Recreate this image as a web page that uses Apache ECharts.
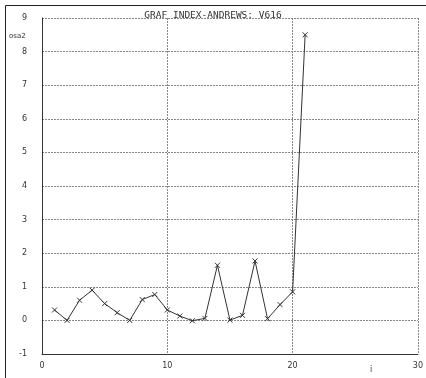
<!DOCTYPE html>
<html>
<head>
<meta charset="utf-8">
<script src="https://cdn.jsdelivr.net/npm/echarts@6/dist/echarts.min.js"></script>
<style>
  html, body { margin: 0; padding: 0; background: #fff; }
  #chart { width: 426px; height: 378px; }
</style>
</head>
<body>
<div id="chart"></div>
<script>
// Andrews index values (osa2) against index i
const indexValues = [1, 2, 3, 4, 5, 6, 7, 8, 9, 10, 11, 12, 13, 14, 15, 16, 17, 18, 19, 20, 21];
const osa2Values = [0.31, 0.0, 0.6, 0.9, 0.5, 0.23, 0.0, 0.62, 0.77, 0.31, 0.13, -0.01, 0.06, 1.64, 0.01, 0.15, 1.77, 0.05, 0.47, 0.85, 8.5];
const xTicks = [0, 10, 20, 30];
const yTicks = [-1, 0, 1, 2, 3, 4, 5, 6, 7, 8, 9];

const chart = echarts.init(document.getElementById('chart'), null, { renderer: 'canvas' });

const monoFont = '"DejaVu Sans Mono", monospace';
const gridLine = { show: true, lineStyle: { color: '#888', type: [2, 1], width: 1 } };

chart.setOption({
  animation: false,
  backgroundColor: '#fff',
  title: {
    text: 'GRAF INDEX-ANDREWS: V616',
    left: 'center',
    top: 6,
    textStyle: { fontFamily: monoFont, fontWeight: 'normal', fontSize: 9.5, color: '#333' }
  },
  grid: { left: 42, right: 8, top: 18, bottom: 24, containLabel: false },
  xAxis: {
    type: 'value',
    min: xTicks[0],
    max: xTicks[xTicks.length - 1],
    interval: 10,
    axisLine: { show: true, onZero: false, lineStyle: { color: '#333', width: 1 } },
    axisTick: { show: false },
    splitLine: gridLine,
    axisLabel: { margin: 8, fontSize: 8, color: '#333', fontFamily: 'DejaVu Sans' }
  },
  yAxis: {
    type: 'value',
    min: yTicks[0],
    max: yTicks[yTicks.length - 1],
    interval: 1,
    axisLine: { show: true, onZero: false, lineStyle: { color: '#333', width: 1 } },
    axisTick: { show: false },
    splitLine: gridLine,
    axisLabel: { margin: 15, fontSize: 8, color: '#333', fontFamily: 'DejaVu Sans' }
  },
  graphic: [
    { type: 'line', shape: { x1: 5.5, y1: 5.5, x2: 5.5, y2: 378 }, style: { stroke: '#222', lineWidth: 1 } },
    { type: 'line', shape: { x1: 5.5, y1: 5.5, x2: 426, y2: 5.5 }, style: { stroke: '#222', lineWidth: 1 } },
    { type: 'text', left: 9, top: 33, style: { text: 'osa2', fontSize: 7, fill: '#333', fontFamily: 'DejaVu Sans' } },
    { type: 'text', left: 370, top: 366, style: { text: 'i', fontSize: 8, fill: '#333', fontFamily: 'DejaVu Sans' } }
  ],
  series: [{
    type: 'line',
    data: indexValues.map((x, k) => [x, osa2Values[k]]),
    symbol: 'path://M0,0L10,10M10,0L0,10',
    symbolSize: 5,
    showSymbol: true,
    itemStyle: { color: '#fff', borderColor: '#333', borderWidth: 1 },
    lineStyle: { color: '#333', width: 1 }
  }]
});
</script>
</body>
</html>
